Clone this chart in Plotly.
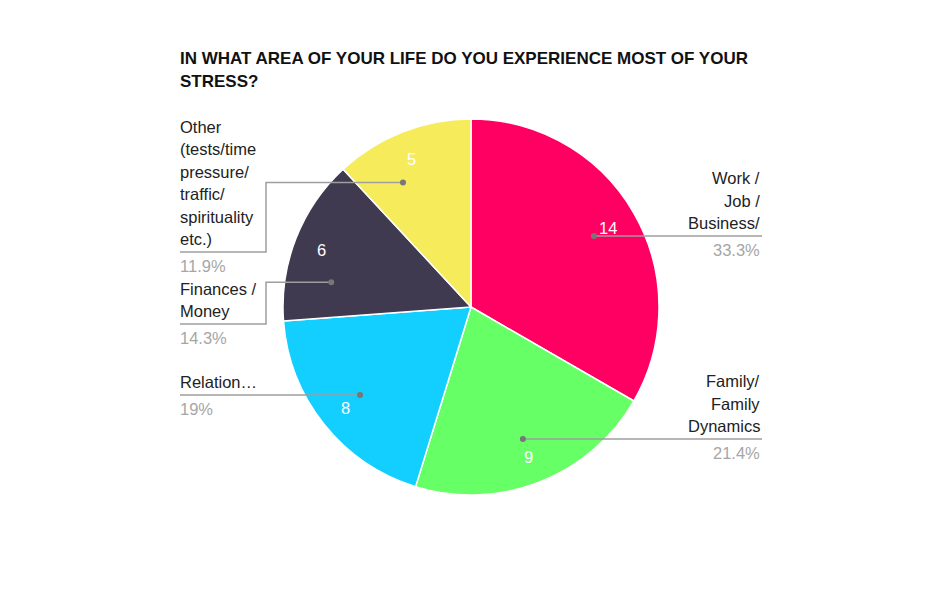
import math
import plotly.graph_objects as go

# ---- data ----
categories = ["Work / Job / Business/", "Family/ Family Dynamics", "Relation…",
              "Finances / Money", "Other (tests/time pressure/ traffic/ spirituality etc.)"]
label_lines = [["Work /", "Job /", "Business/"],
               ["Family/", "Family", "Dynamics"],
               ["Relation…"],
               ["Finances /", "Money"],
               ["Other", "(tests/time", "pressure/", "traffic/", "spirituality", "etc.)"]]
values = [14, 9, 8, 6, 5]
colors = ["#FF0062", "#66FF66", "#13CFFF", "#3F3A4F", "#F6EC5B"]

# ---- layout (pixels, page coordinates) ----
W, H = 940, 612
OFF = 8  # page body margin
cx, cy, R = 471, 307, 188
side = ["right", "right", "left", "left", "left"]
label_line_y = [236, 439, 395, 324, 252]
dot_angle_shift = [0, 0, 0, -11.4, -7.2]
left_x, elbow_x, right_x = 180, 266, 762
TXT_PAD = 2
line_h = 22.4


def px(x):
    return (x - OFF) / W


def py(y):
    return 1 - (y - OFF) / H


total = sum(values)
fig = go.Figure()
fig.add_trace(go.Pie(
    labels=categories, values=values, sort=False, direction="clockwise", rotation=0,
    marker=dict(colors=colors, line=dict(color="white", width=1.5)),
    textinfo="none", hoverinfo="label+value+percent", showlegend=False,
    domain=dict(x=[px(cx - R), px(cx + R)], y=[py(cy + R), py(cy - R)]),
))

annotations = []
shapes = []
font = "Liberation Sans, Arial, sans-serif"
fs = 16.5
cum = 0
for i, v in enumerate(values):
    a0 = cum / total * 360
    cum += v
    a1 = cum / total * 360
    mid = (a0 + a1) / 2
    # value label inside slice
    rv = 0.85 * R
    vx = cx + rv * math.sin(math.radians(mid))
    vy = cy - rv * math.cos(math.radians(mid))
    annotations.append(dict(x=px(vx - 1), y=py(vy + 1), xref="paper", yref="paper", text=str(v),
                            showarrow=False, font=dict(color="white", size=fs, family=font),
                            xanchor="center", yanchor="middle"))
    # dot
    da = mid + dot_angle_shift[i]
    rd = 0.755 * R
    dx = cx + rd * math.sin(math.radians(da))
    dy = cy - rd * math.cos(math.radians(da))
    ly = label_line_y[i]
    lc = "#9E9E9E"
    if side[i] == "right":
        shapes.append(dict(type="line", xref="paper", yref="paper", x0=px(dx), y0=py(ly),
                           x1=px(right_x), y1=py(ly), line=dict(color=lc, width=1.5)))
        tx, anchor = right_x, "right"
        dy = ly
    else:
        if abs(dy - ly) < 3:
            shapes.append(dict(type="line", xref="paper", yref="paper", x0=px(dx), y0=py(ly),
                               x1=px(left_x), y1=py(ly), line=dict(color=lc, width=1.5)))
            dy = ly
        else:
            shapes.append(dict(type="path", xref="paper", yref="paper",
                               path=f"M {px(dx)},{py(dy)} L {px(elbow_x)},{py(dy)} L {px(elbow_x)},{py(ly)} L {px(left_x)},{py(ly)}",
                               line=dict(color=lc, width=1.5)))
        tx, anchor = left_x - TXT_PAD, "left"
    shapes.append(dict(type="circle", xref="paper", yref="paper",
                       x0=px(dx - 3), x1=px(dx + 3), y0=py(dy + 3), y1=py(dy - 3),
                       fillcolor="#777777", line=dict(width=0)))
    lines = label_lines[i]
    n = len(lines)
    for j, t in enumerate(lines):
        yy = ly - 13 - (n - 1 - j) * line_h
        annotations.append(dict(x=px(tx), y=py(yy), xref="paper", yref="paper", text=t,
                                showarrow=False, font=dict(color="#222222", size=fs, family=font),
                                xanchor=anchor, yanchor="middle"))
    pct = v / total * 100
    pct_txt = f"{pct:.1f}".rstrip("0").rstrip(".") + "%"
    annotations.append(dict(x=px(tx), y=py(ly + 14), xref="paper", yref="paper", text=pct_txt,
                            showarrow=False, font=dict(color="#A6A6A6", size=fs, family=font),
                            xanchor=anchor, yanchor="middle"))

# title
title_lines = ["IN WHAT AREA OF YOUR LIFE DO YOU EXPERIENCE MOST OF YOUR", "STRESS?"]
for j, t in enumerate(title_lines):
    annotations.append(dict(x=px(180 - TXT_PAD), y=py(58 + j * 23), xref="paper", yref="paper",
                            text=f"<b>{t}</b>", showarrow=False,
                            font=dict(color="#111111", size=17, family=font),
                            xanchor="left", yanchor="middle"))

fig.update_layout(width=W, height=H, margin=dict(l=0, r=0, t=0, b=0),
                  paper_bgcolor="white", plot_bgcolor="white",
                  annotations=annotations, shapes=shapes)
fig.write_html("out.html")
